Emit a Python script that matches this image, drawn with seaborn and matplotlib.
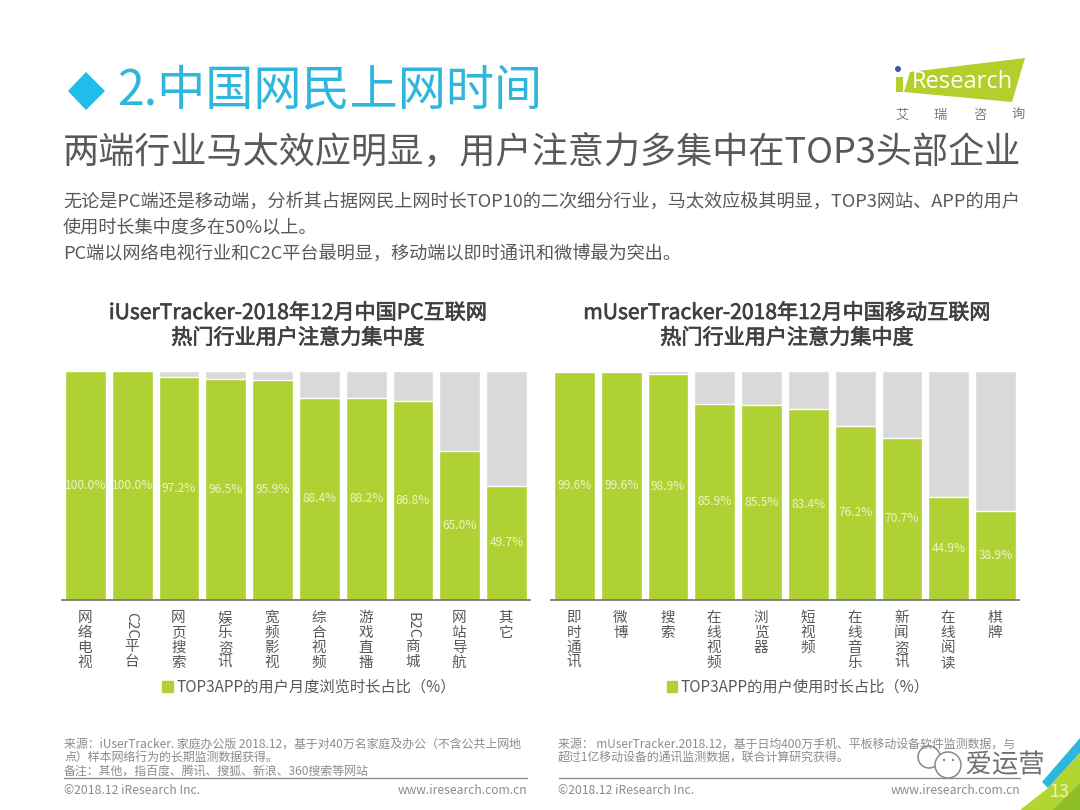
import pandas as pd
import matplotlib
matplotlib.use('Agg')
import matplotlib.pyplot as plt
import matplotlib.patheffects as pe
from matplotlib.patches import Patch, Polygon, Circle
import seaborn as sns

pc_cats = [['网', '络', '电', '视'], ['C2C', '平', '台'], ['网', '页', '搜', '索'], ['娱', '乐', '资', '讯'],
           ['宽', '频', '影', '视'], ['综', '合', '视', '频'], ['游', '戏', '直', '播'], ['B2C', '商', '城'],
           ['网', '站', '导', '航'], ['其', '它']]
pc_vals = [100.0, 100.0, 97.2, 96.5, 95.9, 88.4, 88.2, 86.8, 65.0, 49.7]
m_cats = [['即', '时', '通', '讯'], ['微', '博'], ['搜', '索'], ['在', '线', '视', '频'], ['浏', '览', '器'],
          ['短', '视', '频'], ['在', '线', '音', '乐'], ['新', '闻', '资', '讯'], ['在', '线', '阅', '读'], ['棋', '牌']]
m_vals = [99.6, 99.6, 98.9, 85.9, 85.5, 83.4, 76.2, 70.7, 44.9, 38.9]
total = [100] * 10

GREEN = '#afd133'
GRAY = '#d9d9d9'
DARK = '#595959'
W, H = 1080, 810

sns.set_theme(style='white')
plt.rcParams['font.family'] = ['Noto Sans CJK SC', 'DejaVu Sans']


def chart(rect, cats, vals, title, legend):
    left, right, top, bottom = rect
    ax = fig.add_axes([left / W, 1 - bottom / H, (right - left) / W, (bottom - top) / H])
    df = pd.DataFrame({'cat': [''.join(c) for c in cats], 'val': vals, 'total': total})
    sns.barplot(data=df, x='cat', y='total', color=GRAY, saturation=1, width=0.87, ax=ax)
    sns.barplot(data=df, x='cat', y='val', color=GREEN, saturation=1, width=0.87, ax=ax)
    ax.set_xlim(-0.5, 9.5)
    ax.set_ylim(0, 100)
    ax.set_xlabel('')
    ax.set_ylabel('')
    ax.set_yticks([])
    ax.set_xticks(range(10))
    ax.set_xticklabels([])
    ax.tick_params(length=0)
    sns.despine(ax=ax, left=True)
    ax.spines['bottom'].set_color('#6e6e6e')
    ax.spines['bottom'].set_linewidth(1.2)
    for i, v in enumerate(vals):
        ax.text(i, v / 2, '%.1f%%' % v, ha='center', va='center', fontsize=8.6, color='#eef3c8')
        # vertical category label, latin parts turned on their side
        y = 6
        for tok in cats[i]:
            h = 29 if len(tok) > 1 else 15
            ax.annotate(tok, (i, 0), xytext=(-0.5, -(y + 5 + h / 2) * 0.72), textcoords='offset points',
                        ha='center', va='center', fontsize=10.5, color=DARK,
                        rotation=270 if len(tok) > 1 else 0, annotation_clip=False)
            y += h
    cx = (left + right) / 2
    heavy = [pe.withStroke(linewidth=0.5, foreground='#404040')]
    deco.text(cx + 2, 313, title[0], ha='center', va='center', fontsize=15.2, color='#404040', path_effects=heavy)
    deco.text(cx + 2, 338, title[1], ha='center', va='center', fontsize=15.2, color='#404040', path_effects=heavy)
    fig.legend(handles=[Patch(color=GREEN, label=legend)], loc='center', bbox_to_anchor=((cx + 13) / W, 1 - 687 / H),
               frameon=False, fontsize=11, labelcolor=DARK, handlelength=0.7, handleheight=0.7, handletextpad=0.2)
    return ax


fig = plt.figure(figsize=(10.8, 8.1), dpi=100, facecolor='white')
deco = fig.add_axes([0, 0, 1, 1], zorder=-1)
deco.set_xlim(0, W)
deco.set_ylim(H, 0)
deco.axis('off')

# header
deco.add_patch(Polygon([(68, 91), (86, 72), (105, 91), (86, 110)], color='#1fbcec', lw=0))
deco.text(117, 92, '2.中国网民上网时间', va='center', fontsize=34.7, color='#2fb6dc')
deco.text(63, 153, '两端行业马太效应明显，用户注意力多集中在TOP3头部企业', va='center', fontsize=26, color=DARK)
body = ['无论是PC端还是移动端，分析其占据网民上网时长TOP10的二次细分行业，马太效应极其明显，TOP3网站、APP的用户',
        '使用时长集中度多在50%以上。',
        'PC端以网络电视行业和C2C平台最明显，移动端以即时通讯和微博最为突出。']
for y, line in zip([202, 228, 254], body):
    deco.text(63, y, line, va='center', fontsize=13.1, color=DARK)

# logo
deco.add_patch(Polygon([(910, 72), (1025, 58), (1012, 102), (904, 92)], color='#b2cf2c', lw=0))
deco.add_patch(Polygon([(896, 77), (903, 77), (903, 92), (896, 92)], color='#b2cf2c', lw=0))
deco.add_patch(Circle((898, 69), 3, color='#3f57a6', lw=0))
deco.text(962, 82, 'Research', ha='center', va='center', fontsize=17, color='white', family='Open Sans')
for x, ch in zip([902, 940, 980, 1018], '艾瑞咨询'):
    deco.text(x, 115, ch, ha='center', va='center', fontsize=9.5, color='#7a7a7a')

chart((62, 530, 371, 599.5), pc_cats, pc_vals,
      ['iUserTracker-2018年12月中国PC互联网', '热门行业用户注意力集中度'], 'TOP3APP的用户月度浏览时长占比（%）')
chart((551, 1019, 371.5, 599.5), m_cats, m_vals,
      ['mUserTracker-2018年12月中国移动互联网', '热门行业用户注意力集中度'], 'TOP3APP的用户使用时长占比（%）')

# footer
foot = '#8c8c8c'
deco.text(64, 744, '来源：iUserTracker. 家庭办公版 2018.12，基于对40万名家庭及办公（不含公共上网地', va='center', fontsize=8.6, color=foot)
deco.text(64, 757, '点）样本网络行为的长期监测数据获得。', va='center', fontsize=8.6, color=foot)
deco.text(64, 771, '备注：其他，指百度、腾讯、搜狐、新浪、360搜索等网站', va='center', fontsize=8.6, color=foot)
deco.text(558, 744, '来源： mUserTracker.2018.12，基于日均400万手机、平板移动设备软件监测数据，与', va='center', fontsize=8.6, color=foot)
deco.text(558, 757, '超过1亿移动设备的通讯监测数据，联合计算研究获得。', va='center', fontsize=8.6, color=foot)
deco.plot([64, 527], [778, 778], color='#8c8c8c', lw=1)
deco.plot([559, 1020], [778, 778], color='#8c8c8c', lw=1)
deco.text(64, 791, '©2018.12 iResearch Inc.', va='center', fontsize=8.8, color=foot)
deco.text(527, 791, 'www.iresearch.com.cn', ha='right', va='center', fontsize=8.7, color=foot)
deco.text(558, 791, '©2018.12 iResearch Inc.', va='center', fontsize=8.8, color=foot)
deco.text(1020, 791, 'www.iresearch.com.cn', ha='right', va='center', fontsize=8.7, color=foot)

# corner and watermark
deco.add_patch(Polygon([(1080, 738), (1042, 782), (1048, 788), (1080, 753)], color='#2fb6dc', lw=0))
deco.add_patch(Polygon([(1080, 753), (1048, 788), (1020, 810), (1080, 810)], color='#b2d62f', lw=0))
deco.add_patch(Polygon([(1080, 783), (1053, 810), (1080, 810)], color='#8fbf26', lw=0))
deco.text(1059, 792, '13', ha='center', va='center', fontsize=13, color='#eef5b0')
deco.add_patch(Circle((929, 757), 11, fill=False, ec='#888888', lw=1.1))
deco.add_patch(Circle((948, 765), 13, fc='white', ec='#888888', lw=1.1))
deco.add_patch(Circle((944, 760), 1.2, color='#888888', lw=0))
deco.add_patch(Circle((953, 760), 1.2, color='#888888', lw=0))
deco.text(1005, 765, '爱运营', ha='center', va='center', fontsize=19, color='#707070',
          path_effects=[pe.withStroke(linewidth=2, foreground='white')])

fig.savefig('out.png', dpi=100)
